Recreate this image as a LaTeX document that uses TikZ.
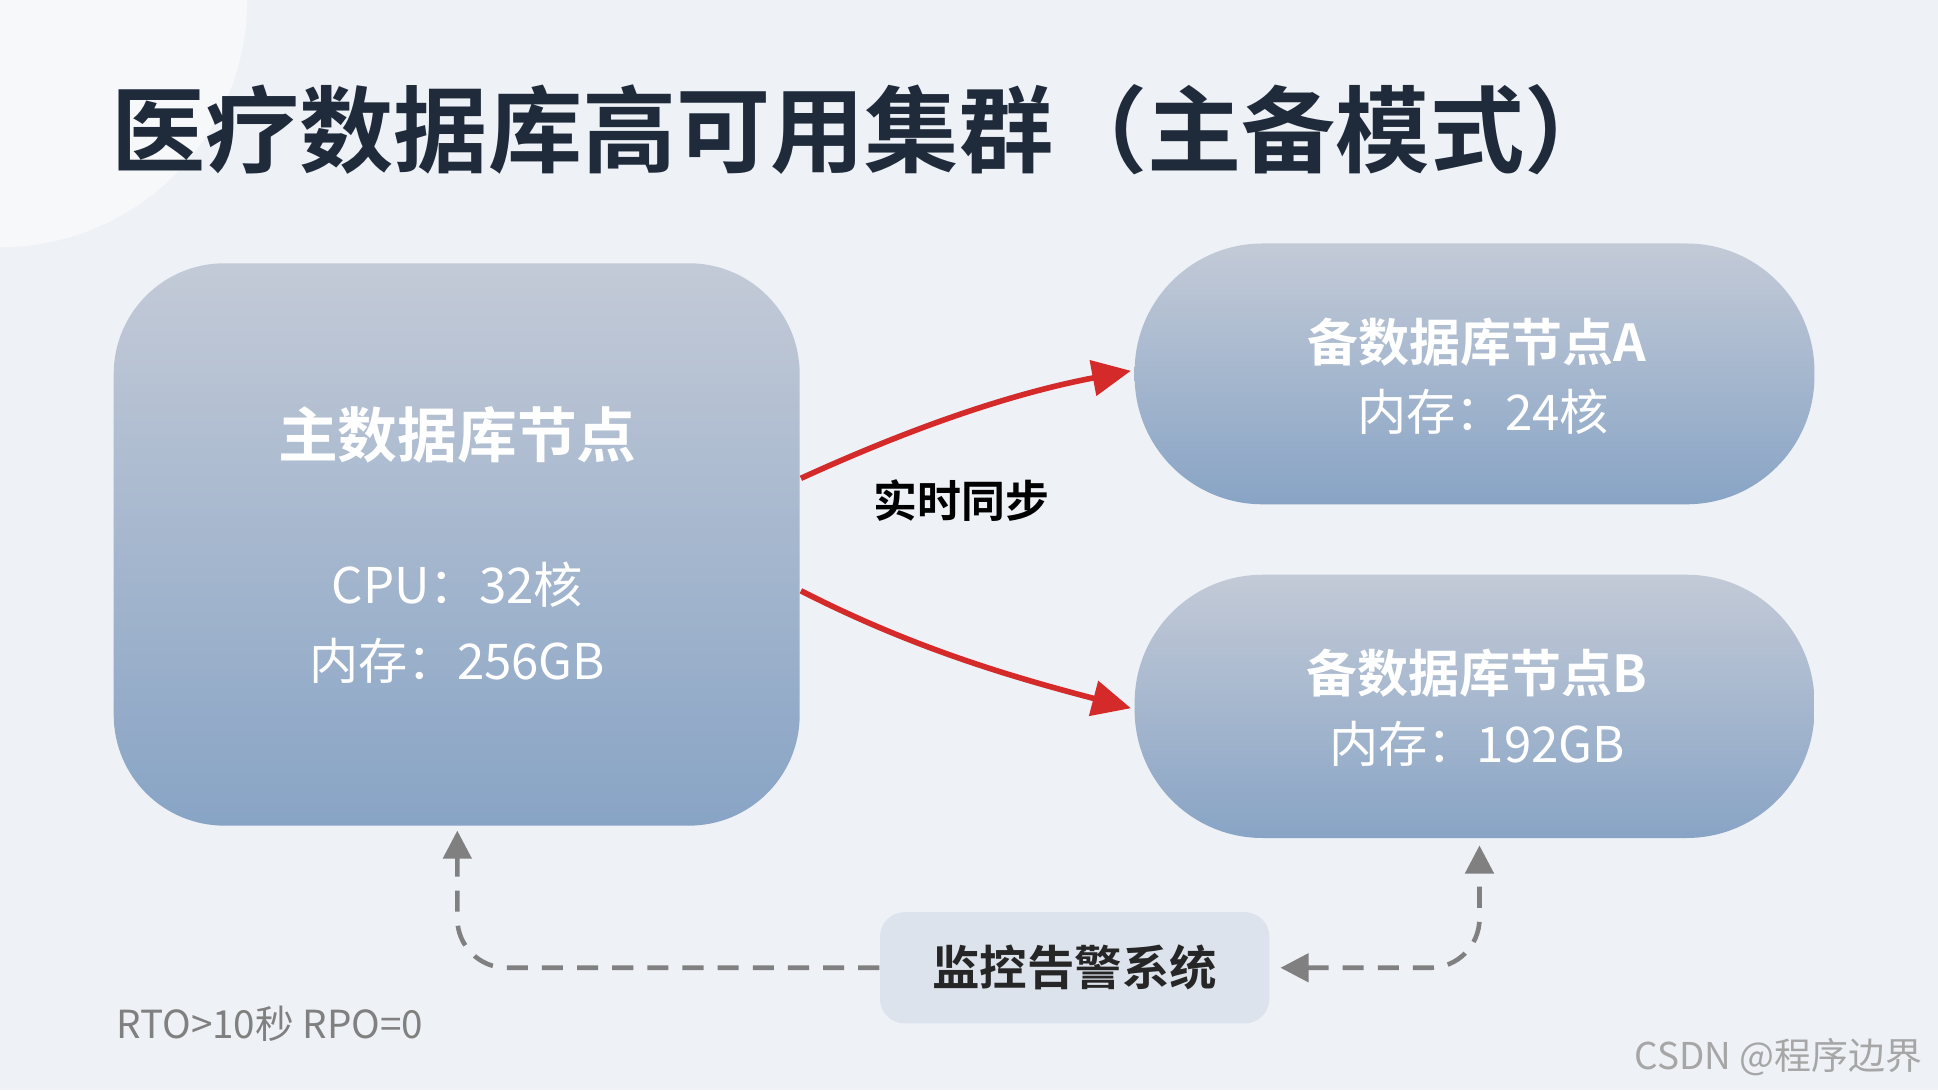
\documentclass[tikz,border=0pt]{standalone}
\usepackage{fontspec}
\setmainfont{Noto Sans CJK SC}
\newfontfamily\cjkb{Noto Sans CJK SC Bold}
\usetikzlibrary{arrows.meta}
\definecolor{bg}{HTML}{EEF1F6}
\definecolor{titlec}{HTML}{1F2A3A}
\definecolor{boxtop}{HTML}{C3CAD7}
\definecolor{boxbot}{HTML}{88A4C5}
\definecolor{redc}{HTML}{D42A2A}
\definecolor{grayc}{HTML}{808080}
\definecolor{monc}{HTML}{DDE3EC}
\begin{document}
\begin{tikzpicture}[x=0.01236cm,y=-0.01236cm,
  dbbox/.style={top color=boxtop,bottom color=boxbot,draw=none,inner sep=0pt},
  wbold/.style={text=white,font=\cjkb\fontsize{14.5}{17}\selectfont},
  wreg/.style={text=white,font=\fontsize{14}{17}\selectfont},
  sync/.style={draw=redc,line width=1.6pt,-{Triangle[length=11pt,width=10pt]}},
  mon/.style={draw=grayc,line width=1.3pt,dash pattern=on 6pt off 4pt,rounded corners=14pt}]
\useasboundingbox (0,0) rectangle (1568,882);
\fill[bg] (0,0) rectangle (1568,882);
\begin{scope}
\clip (0,0) rectangle (1568,882);
\fill[white,opacity=0.5] (0,0) circle (200);
\end{scope}
\node[anchor=west,text=titlec,font=\cjkb\fontsize{26.8}{32}\selectfont] (title) at (80,105) {医疗数据库高可用集群（主备模式）};
\node[dbbox,rounded corners=90pt*0.35,minimum width=555*0.01236cm,minimum height=455*0.01236cm] (p) at (369.5,440.5) {};
\node[wbold,font=\cjkb\fontsize{17}{20}\selectfont] (pt) at (370,352) {主数据库节点};
\node[wreg] (p1) at (370,473) {CPU：32核};
\node[wreg] (p2) at (370,535) {内存：256GB};
\node[dbbox,rounded corners=104pt*0.35,minimum width=550*0.01236cm,minimum height=211*0.01236cm] (a) at (1193,302.5) {};
\node[wbold] (at) at (1195,277) {备数据库节点A};
\node[wreg] (a1) at (1200,333) {内存：24核};
\node[dbbox,rounded corners=104pt*0.35,minimum width=550*0.01236cm,minimum height=213*0.01236cm] (b) at (1193,571.5) {};
\node[wbold] (bt) at (1195,545) {备数据库节点B};
\node[wreg] (b1) at (1195,602) {内存：192GB};
\coordinate (s1) at (648,387);
\coordinate (e1) at (915,300);
\coordinate (s2) at (648,478);
\coordinate (e2) at (915,573);
\draw[sync] (s1) .. controls (740,345) and (820,318) .. (e1);
\draw[sync] (s2) .. controls (740,525) and (820,548) .. (e2);
\node[font=\cjkb\fontsize{12.5}{15}\selectfont] (lab) at (778,405) {实时同步};
\node[fill=monc,rounded corners=7pt,minimum width=315*0.01236cm,minimum height=90*0.01236cm,font=\cjkb\fontsize{13.5}{16}\selectfont,text=black!85] (m) at (869.5,783) {监控告警系统};
\draw[mon,-{Triangle[length=8pt,width=8pt]}] (m.west) -| (370,672);
\draw[mon,{Triangle[length=8pt,width=8pt]}-{Triangle[length=8pt,width=8pt]}] (1036,783) -| (1197,684);
\node[anchor=west,text=grayc,font=\fontsize{11}{13}\selectfont] (rto) at (84,828) {RTO>10秒 RPO=0};
\node[anchor=east,text=black!35,font=\fontsize{10.5}{13}\selectfont] (wm) at (1565,855) {CSDN @程序边界};
\end{tikzpicture}
\end{document}
